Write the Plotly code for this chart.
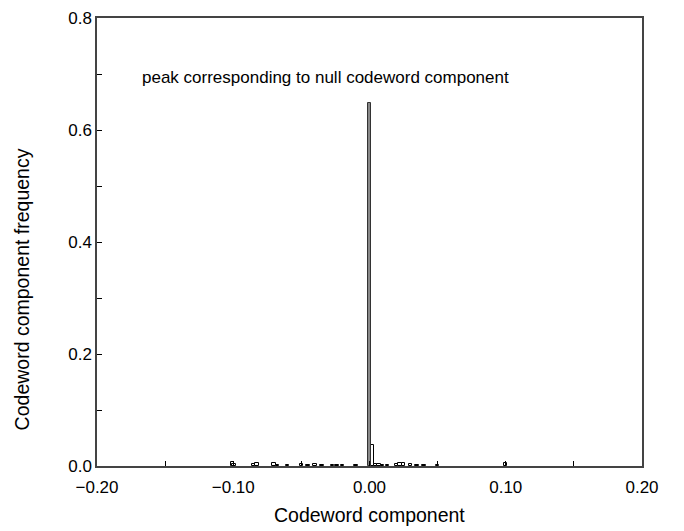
import plotly.graph_objects as go

# histogram bins (centers) and frequencies
bin_centers = [-0.1005, -0.0995, -0.085, -0.0825, -0.070, -0.0675, -0.060, -0.050, -0.045,
               -0.040, -0.035, -0.027, -0.024, -0.020, -0.010, 0.0020, 0.0045,
               0.0070, 0.0095, 0.013, 0.020, 0.0225, 0.025, 0.030, 0.035, 0.040, 0.050, 0.1000]
frequencies = [0.008, 0.004, 0.003, 0.005, 0.006, 0.002, 0.002, 0.003, 0.002,
               0.004, 0.002, 0.002, 0.002, 0.002, 0.002, 0.037, 0.003,
               0.003, 0.002, 0.002, 0.004, 0.006, 0.006, 0.003, 0.002, 0.002, 0.002, 0.006]
peak_center = [0.0]
peak_value = [0.648]
bin_width = 0.0025

x_ticks = [-0.20, -0.10, 0.00, 0.10, 0.20]
y_ticks = [0.0, 0.2, 0.4, 0.6, 0.8]

font = "Liberation Sans, Arial, Helvetica, sans-serif"

fig = go.Figure()
fig.add_trace(go.Bar(x=bin_centers, y=frequencies, width=bin_width,
                     marker=dict(color="white", line=dict(color="black", width=1))))
fig.add_trace(go.Bar(x=peak_center, y=peak_value, width=bin_width,
                     marker=dict(color="#888888", line=dict(color="#333333", width=1))))

fig.add_annotation(x=-0.032, y=0.693, text="peak corresponding to null codeword component",
                   showarrow=False, font=dict(size=17, color="black", family=font))

# axis titles placed as paper annotations
fig.add_annotation(xref="paper", yref="paper", x=0.5, y=-0.11, yanchor="middle",
                   text="Codeword component", showarrow=False,
                   font=dict(size=19.5, color="black", family=font))
fig.add_annotation(xref="paper", yref="paper", x=-0.137, y=0.395, xanchor="center",
                   yanchor="middle", textangle=-90,
                   text="Codeword component frequency", showarrow=False,
                   font=dict(size=19.5, color="black", family=font))

fig.update_layout(
    width=684, height=531,
    margin=dict(l=97, r=42, t=18, b=65),
    plot_bgcolor="white", paper_bgcolor="white",
    showlegend=False, bargap=0,
    font=dict(family=font, size=17, color="black"),
    xaxis=dict(range=[-0.2, 0.2], tickvals=x_ticks, tickformat=".2f", automargin=False,
               ticks="inside", ticklen=5, tickcolor="black", ticklabelstandoff=5,
               minor=dict(dtick=0.05, ticks="inside", ticklen=5, tickcolor="black"),
               showline=True, linecolor="#444444", linewidth=1.5, mirror=True,
               showgrid=False, zeroline=False),
    yaxis=dict(range=[0, 0.8], tickvals=y_ticks, tickformat=".1f", automargin=False,
               ticks="inside", ticklen=5, tickcolor="black",
               minor=dict(dtick=0.1, ticks="inside", ticklen=5, tickcolor="black"),
               showline=True, linecolor="#444444", linewidth=1.5, mirror=True,
               showgrid=False, zeroline=False),
)

fig.write_html("out.html")
